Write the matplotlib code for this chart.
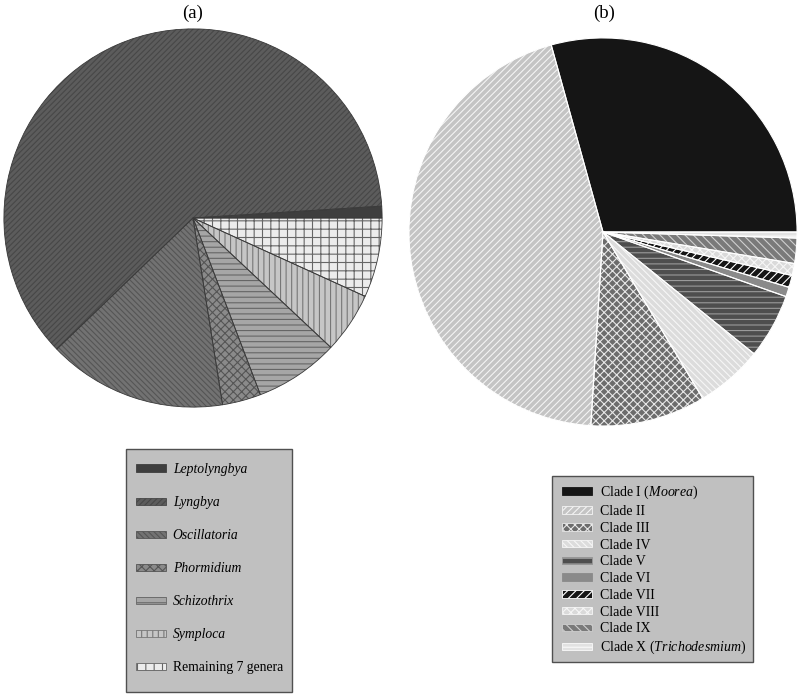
import matplotlib
matplotlib.use("Agg")
import matplotlib.pyplot as plt
from matplotlib.patches import Patch, Rectangle

plt.rcParams["font.family"] = ["Liberation Serif", "DejaVu Serif"]
plt.rcParams["mathtext.fontset"] = "custom"
plt.rcParams["mathtext.rm"] = "Liberation Serif"
plt.rcParams["mathtext.it"] = "Liberation Serif:italic"
plt.rcParams["hatch.linewidth"] = 0.8

# (a) genera, percent of total
genera = ["Leptolyngbya", "Lyngbya", "Oscillatoria", "Phormidium",
          "Schizothrix", "Symploca", "Remaining 7 genera"]
genera_pct = [1.0, 61.2, 15.3, 3.3, 7.2, 5.2, 6.8]
genera_italic = [True, True, True, True, True, True, False]

# (b) clades, percent of total
clades = ["Clade I ($\\mathit{Moorea}$)", "Clade II", "Clade III", "Clade IV",
          "Clade V", "Clade VI", "Clade VII", "Clade VIII", "Clade IX",
          "Clade X ($\\mathit{Trichodesmium}$)"]
clade_pct = [29.3, 44.7, 9.6, 5.6, 5.4, 0.8, 1.0, 1.0, 2.1, 0.5]

# styles
a_face = ["#3e3e3e", "#5c5c5c", "#727272", "#8a8a8a", "#a6a6a6", "#c6c6c6", "#ececec"]
a_hatch = ["", "//////", "\\\\\\\\\\\\", "xxxx", "---", "|||", "++"]
a_hcol = ["#3e3e3e", "#474747", "#555555", "#555555", "#666666", "#777777", "#666666"]

b_face = ["#151515", "#c4c4c4", "#6c6c6c", "#dcdcdc", "#4e4e4e", "#8a8a8a",
          "#151515", "#dadada", "#7a7a7a", "#e2e2e2"]
b_hatch = ["", "/////", "xxxx", "\\\\\\\\\\", "---", "", "////", "xxxx", "\\\\\\\\", "---"]
b_hcol = ["#151515", "#f4f4f4", "#e8e8e8", "#f6f6f6", "#9a9a9a", "#8a8a8a",
          "#ffffff", "#f6f6f6", "#cfcfcf", "#fafafa"]

W, H = 800, 694
fig = plt.figure(figsize=(W / 100, H / 100), dpi=100)


def pie_axes(cx, cy, r):
    ax = fig.add_axes([(cx - r) / W, 1 - (cy + r) / H, 2 * r / W, 2 * r / H])
    ax.axis("off")
    return ax


def draw_pie(ax, values, faces, hatches, hcols, border, lw):
    wedges, _ = ax.pie(values, startangle=0, counterclock=True, radius=1,
                       colors=faces, wedgeprops=dict(linewidth=0))
    for w, h, c in zip(wedges, hatches, hcols):
        w.set_hatch(h)
        w.set_edgecolor(c)
        w.set_linewidth(0)
    ax.pie(values, startangle=0, counterclock=True, radius=1,
           colors=["none"] * len(values),
           wedgeprops=dict(linewidth=lw, edgecolor=border))
    ax.set_xlim(-1.01, 1.01)
    ax.set_ylim(-1.01, 1.01)
    return wedges


def legend_box(x0, y0, x1, y1):
    fig.patches.append(Rectangle((x0 / W, 1 - y1 / H), (x1 - x0) / W, (y1 - y0) / H,
                                 transform=fig.transFigure, facecolor="#c0c0c0",
                                 edgecolor="#505050", linewidth=1.0, zorder=0))


ax_a = pie_axes(193, 218, 191)
draw_pie(ax_a, genera_pct, a_face, a_hatch, a_hcol, "#3a3a3a", 0.6)

ax_b = pie_axes(603, 232, 196)
draw_pie(ax_b, clade_pct, b_face, b_hatch, b_hcol, "#ffffff", 0.8)

fig.text(193 / W, 1 - 13 / H, "(a)", ha="center", va="center", fontsize=13.5)
fig.text(604 / W, 1 - 13 / H, "(b)", ha="center", va="center", fontsize=13.5)

# legend (a)
legend_box(126, 449, 292, 692)
handles_a = [Patch(facecolor=f, hatch=h, edgecolor=c, linewidth=0.6)
             for f, h, c in zip(a_face, a_hatch, a_hcol)]
leg_a = fig.legend(handles_a, genera, loc="upper left",
                   bbox_to_anchor=(136 / W, 1 - 463 / H),
                   fontsize=9.8, frameon=False,
                   handlelength=2.2, handleheight=0.45, handletextpad=0.5,
                   labelspacing=1.47, borderpad=0, borderaxespad=0)
for t, it in zip(leg_a.get_texts(), genera_italic):
    if it:
        t.set_fontstyle("italic")

# legend (b)
legend_box(552, 476, 753, 662)
handles_b = [Patch(facecolor=f, hatch=h, edgecolor=c, linewidth=0.6)
             for f, h, c in zip(b_face, b_hatch, b_hcol)]
fig.legend(handles_b, clades, loc="upper left",
           bbox_to_anchor=(562 / W, 1 - 484 / H),
           fontsize=10, frameon=False,
           handlelength=2.15, handleheight=0.45, handletextpad=0.55,
           labelspacing=0.27, borderpad=0, borderaxespad=0)

fig.savefig("out.png", dpi=100)
plt.close(fig)
